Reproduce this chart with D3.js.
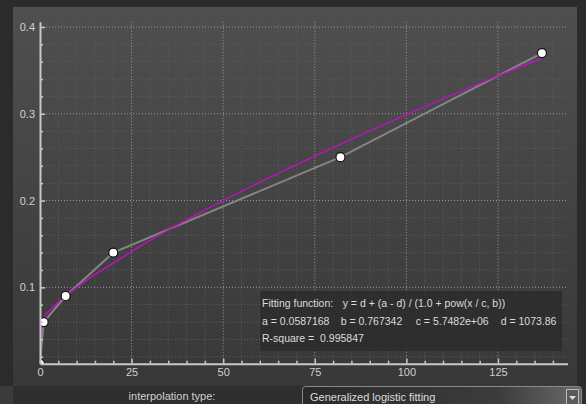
<!DOCTYPE html>
<html>
<head>
<meta charset="utf-8">
<script src="https://cdn.jsdelivr.net/npm/d3@7"></script>
<style>
  body { margin: 0; background: #2b2b2b; }
  svg { display: block; font-family: "Liberation Sans", "DejaVu Sans", sans-serif; }
</style>
</head>
<body>
<script>
// measured points (x, y)
var pointX = [0, 1, 7, 20, 82, 137];
var pointY = [0.012, 0.06, 0.09, 0.14, 0.25, 0.37];

// fitted curve
var fitX = [0, 0.3, 0.8, 1.5, 3, 5, 7, 12, 20, 30, 45, 60, 80, 100, 120, 137];
var fitY = [0.012, 0.045, 0.062, 0.068, 0.075, 0.083, 0.09, 0.106, 0.128, 0.154, 0.189, 0.221, 0.261, 0.299, 0.335, 0.364];

var xMajor = [0, 25, 50, 75, 100, 125];
var yMajor = [0.1, 0.2, 0.3, 0.4];

var fitLines = [
  ["Fitting function:", "y = d + (a - d) / (1.0 + pow(x / c, b))"],
  ["a = 0.0587168", "b = 0.767342", "c = 5.7482e+06", "d = 1073.86"],
  ["R-square =  0.995847"]
];
var comboLabel = "interpolation type:";
var comboValue = "Generalized logistic fitting";

var W = 586, H = 404;

var svg = d3.select("body").append("svg")
    .attr("width", W)
    .attr("height", H);

var defs = svg.append("defs");
var pg = defs.append("linearGradient").attr("id", "panel")
    .attr("x1", 0).attr("y1", 0).attr("x2", 0).attr("y2", 1);
pg.append("stop").attr("offset", "0%").attr("stop-color", "#4f4f4f");
pg.append("stop").attr("offset", "100%").attr("stop-color", "#383838");

var cg = defs.append("linearGradient").attr("id", "combo")
    .attr("x1", 0).attr("y1", 0).attr("x2", 1).attr("y2", 0);
cg.append("stop").attr("offset", "0%").attr("stop-color", "#2a2a2a");
cg.append("stop").attr("offset", "70%").attr("stop-color", "#3c3c3c");
cg.append("stop").attr("offset", "100%").attr("stop-color", "#6a6a6a");

defs.append("clipPath").attr("id", "plot")
  .append("rect").attr("x", 40).attr("y", 21).attr("width", 528).attr("height", 343);

// window frame
svg.append("rect").attr("x", 0).attr("y", 386).attr("width", 13).attr("height", 18).attr("fill", "#3b3b3b");
svg.append("rect").attr("x", 13).attr("y", 7).attr("width", 564).attr("height", 379).attr("fill", "url(#panel)");
svg.append("rect").attr("x", 13).attr("y", 386).attr("width", 573).attr("height", 18).attr("fill", "#2e2e2e");

// scales
var x = d3.scaleLinear().domain([0, 144]).range([40, 567.6]);
var y = d3.scaleLinear().domain([0.012, 0.406]).range([363.7, 21.8]);

var xMinor = d3.range(5, 144, 5).filter(function(d) { return d % 25 !== 0; });
var yMinor = d3.range(0.02, 0.40, 0.02).filter(function(d) { return Math.abs(d * 10 - Math.round(d * 10)) > 1e-6; });

// grid
var grid = svg.append("g");
grid.selectAll(".vmin").data(xMinor).enter().append("line")
    .attr("x1", x).attr("x2", x).attr("y1", y(0.406)).attr("y2", y(0.012))
    .attr("stroke", "#5c5c5c").attr("stroke-dasharray", "1,2");
grid.selectAll(".hmin").data(yMinor).enter().append("line")
    .attr("x1", x(0)).attr("x2", 566).attr("y1", y).attr("y2", y)
    .attr("stroke", "#5c5c5c").attr("stroke-dasharray", "1,2");
grid.selectAll(".vmaj").data(xMajor.slice(1)).enter().append("line")
    .attr("x1", x).attr("x2", x).attr("y1", y(0.406)).attr("y2", y(0.012))
    .attr("stroke", "#9a9a9a").attr("stroke-dasharray", "1,2");
grid.selectAll(".hmaj").data(yMajor).enter().append("line")
    .attr("x1", x(0)).attr("x2", 566).attr("y1", y).attr("y2", y)
    .attr("stroke", "#9a9a9a").attr("stroke-dasharray", "1,2");

// fit text box
var box = svg.append("g").attr("transform", "translate(260,291)");
box.append("rect").attr("width", 302).attr("height", 60)
    .attr("fill", "#2c2c2c").attr("fill-opacity", 0.9);
var segX = [[2, 82.7], [2, 80.7, 155.7, 240.7], [2]];
fitLines.forEach(function(line, i) {
  line.forEach(function(s, j) {
    box.append("text")
        .attr("x", segX[i][j])
        .attr("y", 16 + i * 17.5)
        .attr("fill", "#dcdcdc")
        .attr("font-size", "10.5px")
        .style("white-space", "pre")
        .text(s);
  });
});

// curves
var plot = svg.append("g").attr("clip-path", "url(#plot)");

var pts = pointX.map(function(d, i) { return [d, pointY[i]]; });
var fit = fitX.map(function(d, i) { return [d, fitY[i]]; });

var line = d3.line()
    .x(function(d) { return x(d[0]); })
    .y(function(d) { return y(d[1]); });

plot.append("path").datum(pts)
    .attr("d", line)
    .attr("fill", "none")
    .attr("stroke", "#858585")
    .attr("stroke-width", 2);

plot.append("path").datum(fit)
    .attr("d", line.curve(d3.curveMonotoneX))
    .attr("fill", "none")
    .attr("stroke", "#c010c0")
    .attr("stroke-width", 1.5);

plot.selectAll("circle").data(pts).enter().append("circle")
    .attr("cx", function(d) { return x(d[0]); })
    .attr("cy", function(d) { return y(d[1]); })
    .attr("r", 4.5)
    .attr("fill", "#ffffff")
    .attr("stroke", "#111111")
    .attr("stroke-width", 1.2);

// axes
function styleAxis(g) {
  g.selectAll("path.domain").attr("stroke", "#c8c8c8").attr("stroke-width", 2);
  g.selectAll(".tick line").attr("stroke", "#c8c8c8").attr("stroke-width", 1.5);
  g.selectAll(".tick text").attr("fill", "#d0d0d0").attr("font-size", "11px")
      .attr("font-family", "Liberation Sans, DejaVu Sans, sans-serif");
}

svg.append("g")
    .attr("transform", "translate(0," + y(0.012) + ")")
    .call(d3.axisBottom(x).tickValues(xMinor).tickSize(-3).tickSizeOuter(0).tickFormat(""))
    .call(styleAxis);
svg.append("g")
    .attr("transform", "translate(0," + y(0.012) + ")")
    .call(d3.axisBottom(x).tickValues(xMajor).tickSize(-5).tickSizeOuter(0).tickPadding(5).tickFormat(d3.format("d")))
    .call(styleAxis)
    .call(function(g) { g.select(".domain").remove(); });

svg.append("g")
    .attr("transform", "translate(" + x(0) + ",0)")
    .call(d3.axisLeft(y).tickValues(yMinor).tickSize(-3).tickSizeOuter(0).tickFormat(""))
    .call(styleAxis);
svg.append("g")
    .attr("transform", "translate(" + x(0) + ",0)")
    .call(d3.axisLeft(y).tickValues(yMajor).tickSize(-5).tickSizeOuter(0).tickPadding(5).tickFormat(d3.format(".1f")))
    .call(styleAxis)
    .call(function(g) { g.select(".domain").remove(); });

// bottom controls
svg.append("text")
    .attr("x", 172).attr("y", 400)
    .attr("text-anchor", "middle")
    .attr("fill", "#d0d0d0")
    .attr("font-size", "11px")
    .text(comboLabel);

var combo = svg.append("g").attr("transform", "translate(302,386)");
combo.append("rect").attr("x", 0.5).attr("y", 0.5).attr("width", 279).attr("height", 24).attr("rx", 3)
    .attr("fill", "url(#combo)").attr("stroke", "#8a8a8a");
combo.append("text")
    .attr("x", 8).attr("y", 15)
    .attr("fill", "#dcdcdc")
    .attr("font-size", "11px")
    .text(comboValue);
combo.append("rect").attr("x", 264.5).attr("y", 3.5).attr("width", 12).attr("height", 18)
    .attr("fill", "#5a5a5a").attr("stroke", "#bdbdbd");
combo.append("path").attr("d", "M267,10 L274,10 L270.5,14 Z").attr("fill", "#e0e0e0");
</script>
</body>
</html>
